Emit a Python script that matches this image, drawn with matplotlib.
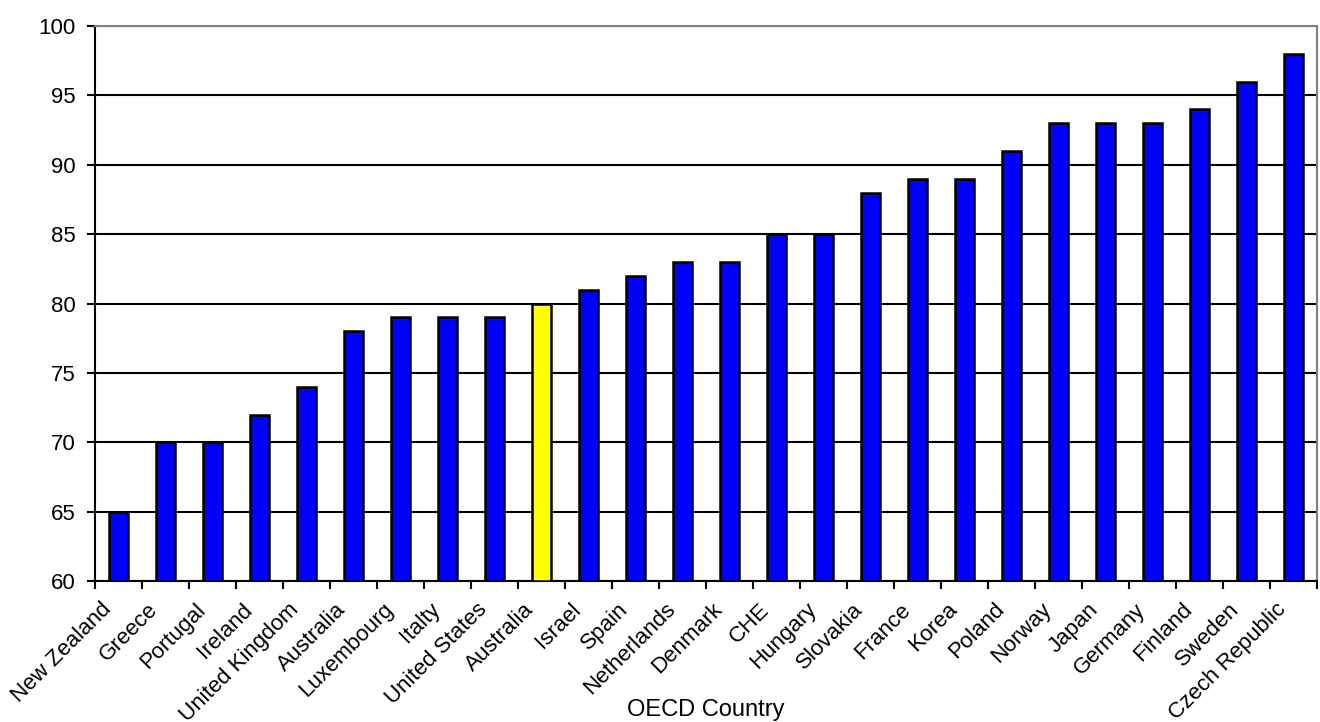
import matplotlib.pyplot as plt
import matplotlib.transforms as mtransforms
import numpy as np

plt.rcParams['font.family'] = ['Liberation Sans', 'DejaVu Sans']

countries = ["New Zealand", "Greece", "Portugal", "Ireland", "United Kingdom",
             "Australia", "Luxembourg", "Italty", "United States", "Australia",
             "Israel", "Spain", "Netherlands", "Denmark", "CHE", "Hungary",
             "Slovakia", "France", "Korea", "Poland", "Norway", "Japan",
             "Germany", "Finland", "Sweden", "Czech Republic"]
values = [65, 70, 70, 72, 74, 78, 79, 79, 79, 80, 81, 82, 83, 83, 85, 85,
          88, 89, 89, 91, 93, 93, 93, 94, 96, 98]
highlight = 9

colors = ["blue"] * len(values)
colors[highlight] = "yellow"

fig = plt.figure(figsize=(13.2, 7.22), dpi=100)
ax = fig.add_axes([95/1320, 1 - 581/722, (1317-95)/1320, (581-26)/722])

x = np.arange(len(values))
ax.bar(x, np.array(values) - 60, bottom=60, width=0.4, color=colors,
       edgecolor="black", linewidth=1.8, zorder=3)

ax.set_xlim(-0.5, len(values) - 0.5)
ax.set_ylim(60, 100)
ax.set_yticks(range(60, 101, 5))
ax.yaxis.grid(True, color="black", linewidth=1.5, zorder=0)

ax.set_xticks(x)
ax.set_xticklabels(countries, rotation=45, ha="right", va="top",
                   rotation_mode="anchor", fontsize=16)
ax.tick_params(axis="x", which="major", length=0, pad=13)
shift = mtransforms.ScaledTranslation(-18/100, 0, fig.dpi_scale_trans)
for lab in ax.get_xticklabels():
    lab.set_transform(lab.get_transform() + shift)
ax.set_xticks(np.arange(len(values) + 1) - 0.5, minor=True)
ax.tick_params(axis="x", which="minor", length=6, width=1.5, color="black")
ax.tick_params(axis="y", labelsize=16, length=6, width=1.5, pad=8)

for s in ["left", "bottom"]:
    ax.spines[s].set_color("black")
    ax.spines[s].set_linewidth(1.5)
for s in ["top", "right"]:
    ax.spines[s].set_color("gray")
    ax.spines[s].set_linewidth(1.5)

ax.set_xlabel("OECD Country", fontsize=17, va="center")
ax.xaxis.set_label_coords(0.5, -129/555)

plt.savefig("out.png", dpi=100)
